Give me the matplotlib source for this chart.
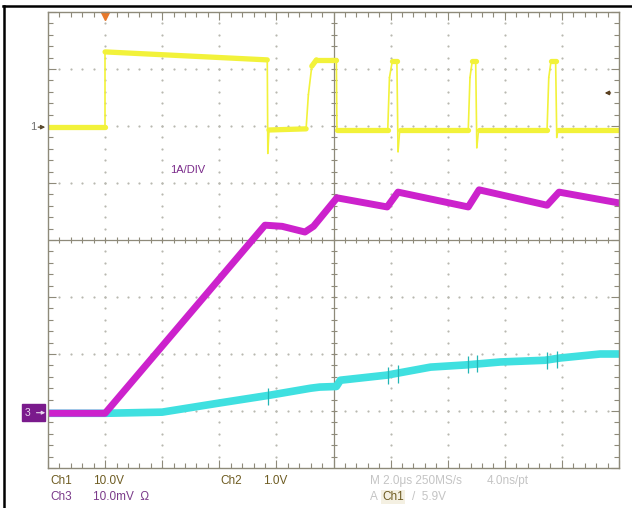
import numpy as np
import matplotlib.pyplot as plt
from matplotlib.collections import LineCollection
from matplotlib.patches import Rectangle
from matplotlib.lines import Line2D

plt.rcParams['font.family'] = ['Liberation Sans', 'DejaVu Sans']

# time in divisions (0..10), amplitude in divisions (-4..4, centre = 0)
yellow_t = [0.0, 1.0, 1.0, 3.84, 3.85, 3.87, 4.52, 4.56, 4.62, 4.70, 5.05, 5.06,
            5.95, 5.98, 6.03, 6.11, 6.13, 6.16, 7.36, 7.39, 7.43, 7.49, 7.51, 7.54,
            8.74, 8.77, 8.81, 8.89, 8.91, 8.93, 10.0]
yellow_v = [1.98, 1.98, 3.30, 3.16, 1.52, 1.93, 1.95, 2.55, 3.05, 3.16, 3.16, 1.93,
            1.93, 2.85, 3.14, 3.14, 1.55, 1.93, 1.93, 2.85, 3.14, 3.14, 1.62, 1.93,
            1.93, 2.85, 3.14, 3.14, 1.80, 1.93, 1.93]

magenta_t = [0.0, 1.0, 3.8, 4.1, 4.5, 4.65, 5.06, 5.94, 6.13, 7.36, 7.55, 8.74, 8.95, 10.0]
magenta_v = [-3.04, -3.04, 0.26, 0.24, 0.14, 0.24, 0.74, 0.58, 0.84, 0.58, 0.88, 0.61, 0.84, 0.65]

cyan_t = [0.0, 1.0, 2.0, 3.0, 3.9, 4.6, 4.76, 5.05, 5.12, 5.94, 6.7, 7.34, 7.92, 8.7, 8.97, 9.67, 10.0]
cyan_v = [-3.04, -3.04, -3.02, -2.86, -2.72, -2.60, -2.58, -2.57, -2.46, -2.37, -2.23, -2.19,
          -2.14, -2.11, -2.07, -2.0, -2.0]
spike_t = [3.86, 5.96, 6.13, 7.36, 7.51, 8.74, 8.91]
spike_v = [-2.74, -2.38, -2.35, -2.19, -2.17, -2.11, -2.09]

W, H = 632, 508
fig = plt.figure(figsize=(W / 100, H / 100), dpi=100)
fig.patch.set_facecolor('white')
ax = fig.add_axes([48 / W, 1 - 468 / H, 571 / W, 456 / H])
ax.set_xlim(0, 10)
ax.set_ylim(-4, 4)

gcol = '#8e8a7a'
dcol = '#b8b8b0'
for s in ax.spines.values():
    s.set_color(gcol)
    s.set_linewidth(1.0)
ax.set_xticks(np.arange(0, 11, 1))
ax.set_xticks(np.arange(0, 10.01, 0.2), minor=True)
ax.set_yticks(np.arange(-4, 5, 1))
ax.set_yticks(np.arange(-4, 4.01, 0.2), minor=True)
ax.tick_params(which='both', direction='in', top=True, right=True,
               labelbottom=False, labelleft=False, color=gcol, width=0.8)
ax.tick_params(which='major', length=6)
ax.tick_params(which='minor', length=3.5)

# centre cross with small ticks
ax.axhline(0, color=gcol, lw=0.9)
ax.axvline(5, color=gcol, lw=0.9)
xt = np.arange(0.2, 10, 0.2)
ax.plot(xt, np.zeros_like(xt), ls='none', marker='|', ms=5, mew=0.8, color=gcol)
yt = np.arange(-3.8, 4, 0.2)
ax.plot(np.full_like(yt, 5), yt, ls='none', marker='_', ms=5, mew=0.8, color=gcol)

# dotted graticule
for i in [1, 2, 3, 4, 6, 7, 8, 9]:
    ys = np.arange(-4, 4.01, 0.2)
    ax.scatter(np.full_like(ys, i), ys, s=2.5, color=dcol, linewidths=0)
for j in [-3, -2, -1, 1, 2, 3]:
    xs = np.arange(0, 10.01, 0.2)
    ax.scatter(xs, np.full_like(xs, j), s=2.5, color=dcol, linewidths=0)

# traces
ax.plot(cyan_t, cyan_v, color='#3fe0e0', lw=5.5, solid_joinstyle='round')
sv = np.array(spike_v)
ax.vlines(spike_t, sv - 0.15, sv + 0.15, color='#22b5b5', lw=0.9)
ax.plot(magenta_t, magenta_v, color='#cc22cc', lw=5, solid_joinstyle='round')

pts = np.column_stack([yellow_t, yellow_v])
segs = np.stack([pts[:-1], pts[1:]], axis=1)
dt = np.diff(yellow_t)
dv = np.abs(np.diff(yellow_v))
slope = dv / np.maximum(dt, 1e-6)
lws = np.where(slope > 5, 1.2, 3.8)
lc = LineCollection(segs, colors='#f2f23a', linewidths=lws, capstyle='round')
ax.add_collection(lc)

# channel markers
ax.annotate('', xy=(0, 1.98), xytext=(-0.22, 1.98),
            arrowprops=dict(arrowstyle='-|>', color='#5a4a30', lw=0.9, mutation_scale=6),
            annotation_clip=False)
fig.text(30 / W, 1 - 127 / H, '1', color='#707070', fontsize=8, va='center', ha='left')

ax.add_patch(Rectangle((-0.455, -3.18), 0.41, 0.30, color='#7a1a8c', clip_on=False))
ax.text(-0.36, -3.03, '3', color='#e8d8ee', fontsize=7.5, va='center', ha='center')
ax.annotate('', xy=(0, -3.03), xytext=(-0.25, -3.03),
            arrowprops=dict(arrowstyle='-|>', color='#e8d8ee', lw=0.8, mutation_scale=5),
            annotation_clip=False)

ax.annotate('', xy=(9.70, 2.58), xytext=(9.90, 2.58),
            arrowprops=dict(arrowstyle='-|>', color='#5a4020', lw=1.0, mutation_scale=6))
ax.plot([1.0], [3.93], marker='v', ms=6, color='#e8782a', clip_on=False)

fig.text(170 / W, 1 - 170 / H, '1A/DIV', color='#7a2a8a', fontsize=8, va='center', ha='left')

# readout
brown = '#6e5c22'
purple = '#7a3a8a'
faint = '#c4c4c4'
r1 = 1 - 481 / H
r2 = 1 - 497 / H
fs = 8.5
fig.text(50 / W, r1, 'Ch1', color=brown, fontsize=fs, va='center')
fig.text(93 / W, r1, '10.0V', color=brown, fontsize=fs, va='center')
fig.text(220 / W, r1, 'Ch2', color=brown, fontsize=fs, va='center')
fig.text(263 / W, r1, '1.0V', color=brown, fontsize=fs, va='center')
fig.text(370 / W, r1, 'M 2.0\u03bcs 250MS/s', color=faint, fontsize=fs, va='center')
fig.text(487 / W, r1, '4.0ns/pt', color=faint, fontsize=fs, va='center')
fig.text(50 / W, r2, 'Ch3', color=purple, fontsize=fs, va='center')
fig.text(93 / W, r2, '10.0mV  \u03a9', color=purple, fontsize=fs, va='center')
fig.text(370 / W, r2, 'A', color=faint, fontsize=fs, va='center')
fig.text(382 / W, r2, 'Ch1', color=brown, fontsize=fs, va='center',
         bbox=dict(boxstyle='square,pad=0.1', fc='#f4f0e2', ec='none'))
fig.text(412 / W, r2, '/  5.9V', color=faint, fontsize=fs, va='center')

# outer black frame (top and left)
fig.add_artist(Line2D([3 / W, 1], [1 - 6 / H, 1 - 6 / H], color='black', lw=1.8))
fig.add_artist(Line2D([4 / W, 4 / W], [0, 1 - 6 / H], color='black', lw=1.8))

fig.savefig('out.png', dpi=100, facecolor='white')
